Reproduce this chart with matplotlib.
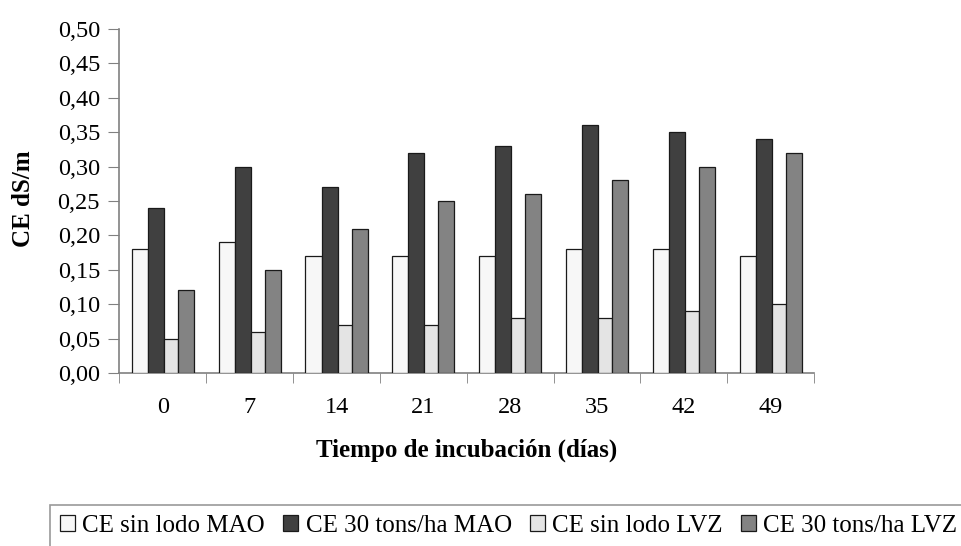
import matplotlib
matplotlib.use("Agg")
import matplotlib.pyplot as plt
import numpy as np

plt.rcParams["font.family"] = ["Liberation Serif", "DejaVu Serif"]

dias = ["0", "7", "14", "21", "28", "35", "42", "49"]
sin_lodo_mao = [0.18, 0.19, 0.17, 0.17, 0.17, 0.18, 0.18, 0.17]
tons30_mao = [0.24, 0.30, 0.27, 0.32, 0.33, 0.36, 0.35, 0.34]
sin_lodo_lvz = [0.05, 0.06, 0.07, 0.07, 0.08, 0.08, 0.09, 0.10]
tons30_lvz = [0.12, 0.15, 0.21, 0.25, 0.26, 0.28, 0.30, 0.32]

labels = ["CE sin lodo MAO", "CE 30 tons/ha MAO", "CE sin lodo LVZ", "CE 30 tons/ha LVZ"]
colors = ["#f7f7f7", "#404040", "#e4e4e4", "#838383"]
widths = [0.185, 0.185, 0.16, 0.185]

fig = plt.figure(figsize=(9.62, 5.46), dpi=100)
ax = fig.add_axes([119.5 / 962, 1 - 373 / 546, (814 - 119.5) / 962, (373 - 29) / 546])

x = np.arange(len(dias))
start = x - sum(widths) / 2
off = 0.0
series = [sin_lodo_mao, tons30_mao, sin_lodo_lvz, tons30_lvz]
for vals, lab, col, w in zip(series, labels, colors, widths):
    ax.bar(start + off, vals, width=w, align="edge", color=col,
           edgecolor="#1a1a1a", linewidth=0.9, label=lab, zorder=3)
    off += w

ax.set_xlim(-0.5, len(dias) - 0.5)
ax.set_ylim(0, 0.5)
ax.set_yticks(np.arange(0, 0.501, 0.05))
ax.set_yticklabels([f"{v:.2f}".replace(".", ",") for v in np.arange(0, 0.501, 0.05)])
# category labels at centers, tick marks at the group boundaries
ax.set_xticks(x)
ax.set_xticklabels(dias)
ax.set_xticks(np.arange(-0.5, len(dias), 1), minor=True)
ax.tick_params(axis="x", which="major", length=0, pad=17, labelsize=17.5)
ax.tick_params(axis="x", which="minor", length=7, direction="out", color="#808080")
ax.tick_params(axis="y", length=8, direction="out", color="#808080", labelsize=17.5, pad=6)

for s in ["top", "right"]:
    ax.spines[s].set_visible(False)
for s in ["left", "bottom"]:
    ax.spines[s].set_color("#808080")
    ax.spines[s].set_linewidth(1.2)

ax.set_xlabel("Tiempo de incubación (días)", fontsize=18, fontweight="bold", labelpad=15)
fig.text(24 / 962, 1 - 199 / 546, "CE dS/m", rotation=90, fontsize=18,
         fontweight="bold", ha="center", va="center")

leg = fig.legend(loc="upper left", bbox_to_anchor=(50 / 962, 1 - 505 / 546), ncol=4,
                 fontsize=18, frameon=True, fancybox=False, handlelength=0.6,
                 handleheight=0.6, handletextpad=0.3, columnspacing=0.72,
                 borderpad=0.4, borderaxespad=0)
leg.get_frame().set_edgecolor("#808080")
leg.get_frame().set_linewidth(1.2)

fig.savefig("out.png", dpi=100)
